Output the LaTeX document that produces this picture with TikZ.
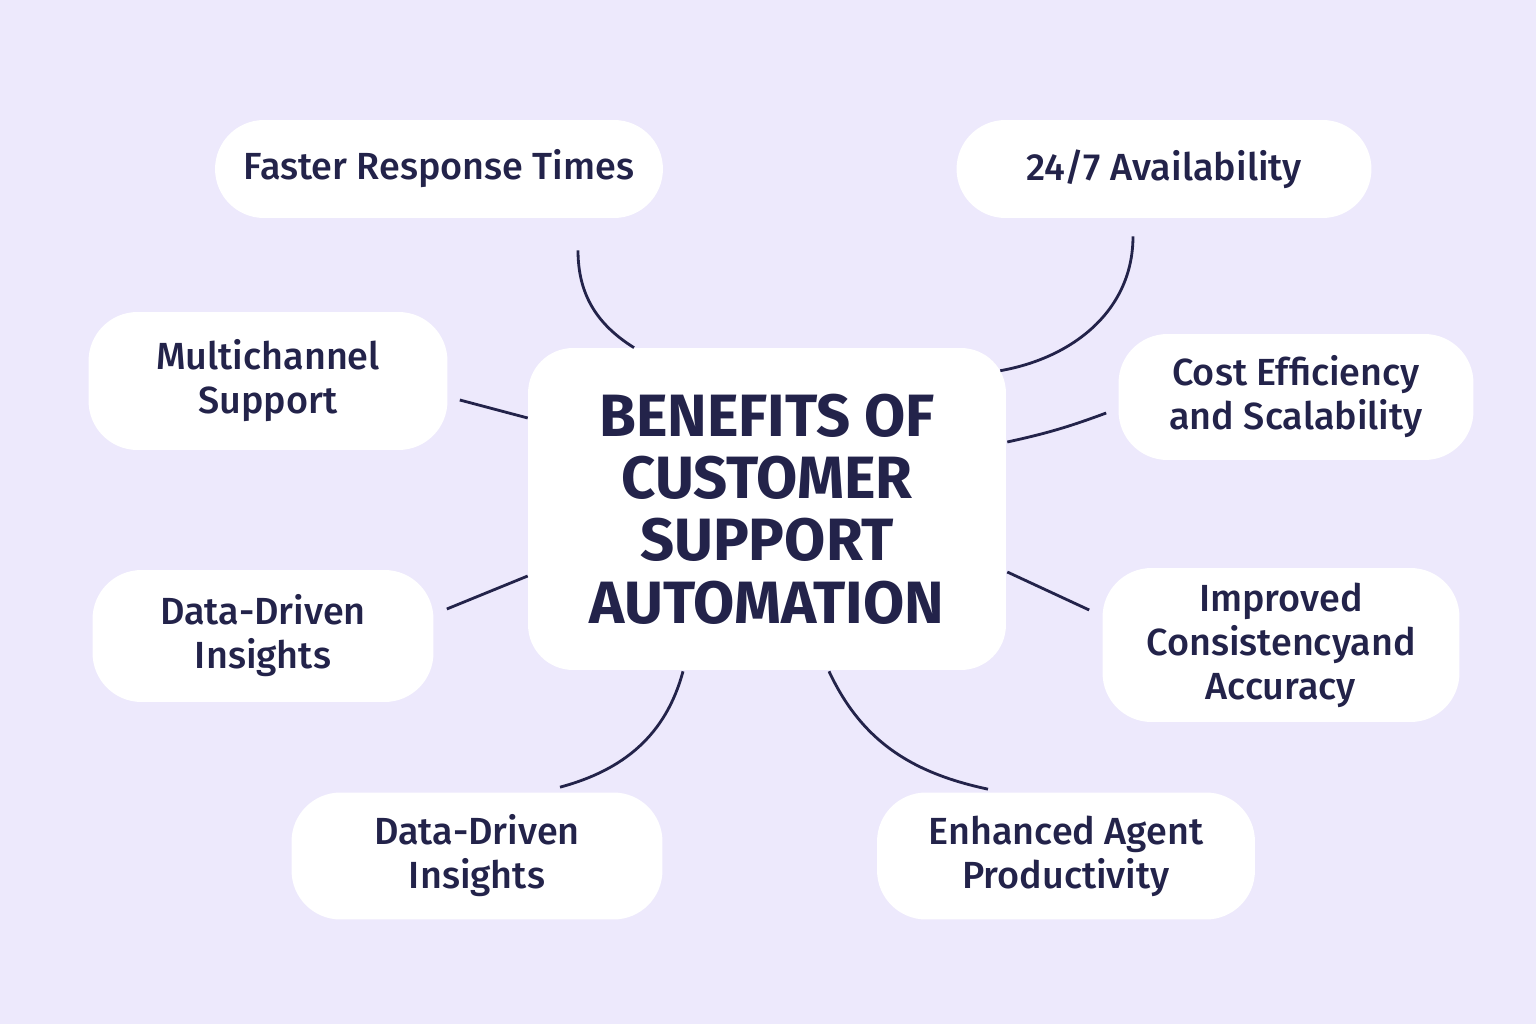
\documentclass[tikz,border=0pt]{standalone}
\usepackage{fontspec}
\setmainfont{Fira Sans}
\newfontfamily\medfont{Fira Sans}[UprightFont={* Medium}]
\usepackage{tikz}
\definecolor{bgpurple}{HTML}{EDE9FC}
\definecolor{ink}{HTML}{23234A}

\begin{document}
\begin{tikzpicture}[x=0.02cm, y=0.02cm]
\tikzstyle{hubbox} = [rectangle, fill=white, rounded corners=0.9cm, align=center, text=ink, inner sep=0pt, minimum width=9.56cm, minimum height=6.44cm, font=\fontsize{34}{35.5}\selectfont\bfseries]
\tikzstyle{benefit} = [rectangle, fill=white, rounded corners=0.98cm, align=center, text=ink, inner sep=0pt, minimum height=2.54cm, font=\fontsize{21.5}{25}\selectfont\medfont]
\tikzstyle{link} = [ink, line width=1.6pt]

\fill[bgpurple] (0,0) rectangle (1536,-1024);

\node[hubbox] (hub) at (767,-509) {BENEFITS OF\\CUSTOMER\\SUPPORT\\AUTOMATION};
\node[benefit, minimum width=8.96cm, minimum height=1.96cm] (faster) at (439,-169) {Faster Response Times};
\node[benefit, minimum width=8.3cm, minimum height=1.96cm] (avail) at (1164,-169) {24/7 Availability};
\node[benefit, minimum width=7.18cm, minimum height=2.76cm] (multi) at (268,-381) {Multichannel\\Support};
\node[benefit, minimum width=7.1cm, minimum height=2.52cm] (cost) at (1296,-397) {Cost Efficiency\\and Scalability};
\node[benefit, minimum width=6.82cm, minimum height=2.64cm] (dataleft) at (263,-636) {Data-Driven\\Insights};
\node[benefit, minimum width=7.14cm, minimum height=3.08cm] (improved) at (1281,-645) {Improved\\Consistencyand\\Accuracy};
\node[benefit, minimum width=7.42cm] (databottom) at (477,-856) {Data-Driven\\Insights};
\node[benefit, minimum width=7.56cm] (enhanced) at (1066,-856) {Enhanced Agent\\Productivity};

\draw[link] ([shift={(-133,0)}]hub.north) to[out=148, in=-90] ([shift={(139,-32)}]faster.south);
\draw[link] ([shift={(-6,-23)}]hub.north east) to[out=10, in=-90] ([shift={(-31,-18)}]avail.south);
\draw[link] ([shift={(0,91)}]hub.west) -- ([shift={(12,-19)}]multi.east);
\draw[link] ([shift={(1,67)}]hub.east) to[bend right=4] ([shift={(-12,-16)}]cost.west);
\draw[link] ([shift={(0,-67)}]hub.west) -- ([shift={(13,27)}]dataleft.east);
\draw[link] ([shift={(1,-63)}]hub.east) -- ([shift={(-13,35)}]improved.west);
\draw[link] ([shift={(-84,-1)}]hub.south) to[out=-105, in=15] ([shift={(83,5)}]databottom.north);
\draw[link] ([shift={(62,-1)}]hub.south) to[out=-65, in=168] ([shift={(-78,3)}]enhanced.north);
\end{tikzpicture}
\end{document}
